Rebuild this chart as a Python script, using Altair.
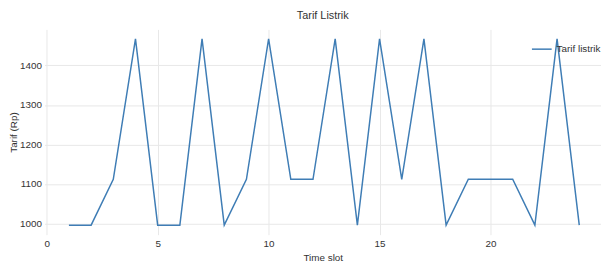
import altair as alt
import pandas as pd

time_slot = list(range(1, 25))
tarif = [996, 996, 1112, 1467, 996, 996, 1467, 996, 1112, 1467, 1112, 1112,
         1467, 996, 1467, 1112, 1467, 996, 1112, 1112, 1112, 996, 1467, 996]
series = ["Tarif listrik"] * len(time_slot)
x_ticks = [0, 5, 10, 15, 20, 25]
y_ticks = [1000, 1100, 1200, 1300, 1400]

df = pd.DataFrame({"t": time_slot, "v": tarif, "s": series})

FONT = "Liberation Sans"

chart = alt.Chart(df).mark_line(strokeWidth=1.5, clip=True).encode(
    x=alt.X("t:Q", scale=alt.Scale(domain=[-0.1, 24.98], nice=False, zero=False),
            axis=alt.Axis(values=x_ticks, format="d", title="Time slot", grid=True, domain=False,
                          ticks=False, labelPadding=4, titlePadding=4, labelFlush=False)),
    y=alt.Y("v:Q", scale=alt.Scale(domain=[972, 1491], nice=False, zero=False),
            axis=alt.Axis(values=y_ticks, format="d", title="Tarif (Rp)", grid=True, domain=False,
                          ticks=False, labelPadding=3, titlePadding=1)),
    color=alt.Color("s:N", scale=alt.Scale(range=["#3f7db5"]),
                    legend=alt.Legend(title=None, orient="none", legendX=493, legendY=9,
                                      symbolType="stroke", symbolSize=400, symbolStrokeWidth=1.5,
                                      labelFontSize=10, labelFont=FONT, labelColor="#333333",
                                      labelOffset=4)),
).properties(
    width=564, height=208,
    title=alt.TitleParams("Tarif Listrik", fontSize=11, font=FONT, fontWeight="normal",
                          color="#333333", offset=9),
    autosize=alt.AutoSizeParams(type="none"),
    padding={"left": 37, "top": 20, "right": 0, "bottom": 26},
).configure_view(stroke=None).configure_axis(
    labelFont=FONT, titleFont=FONT, labelFontSize=10, titleFontSize=10,
    labelColor="#333333", titleColor="#333333", titleFontWeight="normal",
    gridColor="#e8e8e8", gridWidth=1,
)

chart.save("out.html", embed_options={"renderer": "svg", "actions": False})
